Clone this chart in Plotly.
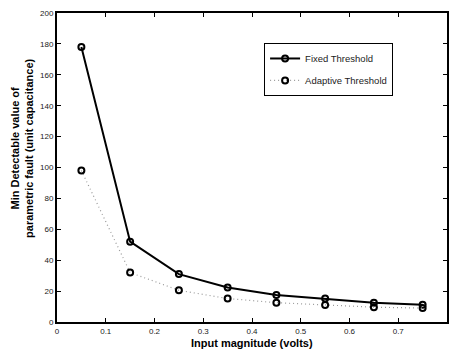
import plotly.graph_objects as go

x_vals = [0.05, 0.15, 0.25, 0.35, 0.45, 0.55, 0.65, 0.75]
fixed_vals = [178, 52, 31, 22.3, 17.5, 15.2, 12.5, 11.2]
adaptive_vals = [98, 32, 20.5, 15.2, 12.5, 11, 9.6, 9]
x_ticks = [0, 0.1, 0.2, 0.3, 0.4, 0.5, 0.6, 0.7, 0.8]
y_ticks = [0, 20, 40, 60, 80, 100, 120, 140, 160, 180, 200]

FONT = "Liberation Sans, Arial, Helvetica"

fig = go.Figure()
fig.add_trace(go.Scatter(
    x=x_vals, y=fixed_vals, name="Fixed Threshold", mode="lines+markers",
    legendgroup="a",
    line=dict(color="black", width=2),
    marker=dict(symbol="circle-open", size=6, color="black", line=dict(width=2)),
))
fig.add_trace(go.Scatter(
    x=x_vals, y=adaptive_vals, name="Adaptive Threshold", mode="lines+markers",
    legendgroup="b",
    line=dict(color="#9a9a9a", width=1.2, dash="1px,3px"),
    marker=dict(symbol="circle-open", size=6, color="black", line=dict(width=2)),
))

axis_common = dict(
    showline=True, linecolor="black", linewidth=2, mirror="ticks",
    ticks="inside", ticklen=4, tickcolor="black", tickwidth=1,
    showgrid=False, zeroline=False, automargin=False,
    tickfont=dict(family=FONT, size=8, color="#222"),
)
fig.update_xaxes(range=[0, 0.8], tickvals=x_ticks,
                 ticktext=[f"{v:g}" for v in x_ticks], **axis_common)
fig.update_yaxes(range=[0, 200], tickvals=y_ticks, **axis_common)

fig.add_annotation(
    text="<b>Input magnitude (volts)</b>", xref="paper", yref="paper",
    x=0.5, y=-0.068, xanchor="center", yanchor="middle", showarrow=False,
    font=dict(family=FONT, size=11, color="black"),
)
fig.add_annotation(
    text="<b>Min Detectable value of<br>parametric fault (unit capacitance)</b>",
    xref="paper", yref="paper", x=-0.09, y=0.563, textangle=-90,
    xanchor="center", yanchor="middle", showarrow=False,
    font=dict(family=FONT, size=11, color="black"),
)

fig.update_layout(
    width=452, height=349,
    margin=dict(l=57, r=5, t=13, b=27),
    plot_bgcolor="white", paper_bgcolor="white",
    legend=dict(
        x=0.531, y=0.903, xanchor="left", yanchor="top",
        bordercolor="black", borderwidth=1, bgcolor="white",
        font=dict(family=FONT, size=9.5, color="#222"),
        itemwidth=30, tracegroupgap=3, entrywidth=136,
    ),
)
fig.write_html("out.html", config={"displayModeBar": False},
               post_script="document.body.style.margin='0';")
